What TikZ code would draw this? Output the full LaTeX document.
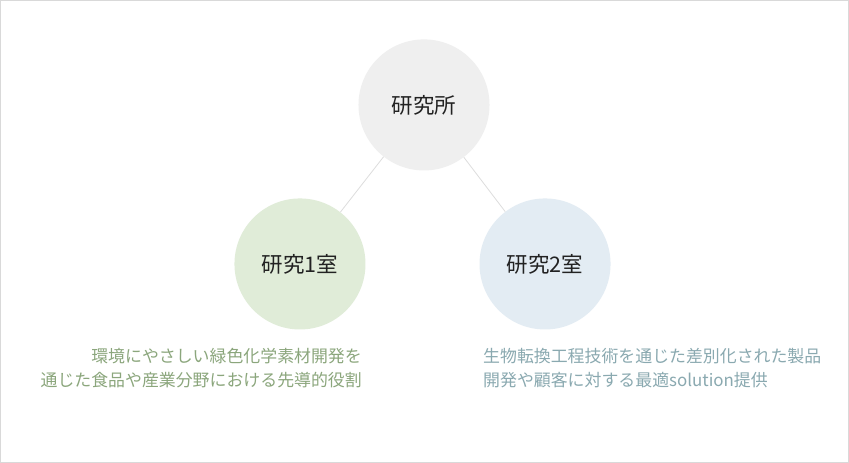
\documentclass[tikz,border=0pt]{standalone}
\usepackage{fontspec}
\setmainfont{Noto Sans CJK JP}
\definecolor{framegray}{HTML}{D9D9D9}
\definecolor{linegray}{HTML}{DDDDDD}
\definecolor{topfill}{HTML}{EFEFEF}
\definecolor{leftfill}{HTML}{E0ECD8}
\definecolor{rightfill}{HTML}{E3ECF3}
\definecolor{greentext}{HTML}{8BA67C}
\definecolor{bluetext}{HTML}{8AA9B0}
\definecolor{darktext}{HTML}{222222}
\begin{document}
\begin{tikzpicture}[x=1pt,y=-1pt,
  bubble/.style={circle,minimum size=131pt,inner sep=0pt,text=darktext,font=\fontsize{21.5}{24}\selectfont},
  link/.style={draw=linegray,line width=0.8pt},
  desc/.style={inner sep=0pt,font=\fontsize{16.9}{24}\selectfont}]
\draw[framegray,fill=white,line width=0.8pt] (0.5,0.5) rectangle (848.5,462.5);
\node[bubble,fill=topfill] (top) at (424,105) {研究所};
\node[bubble,fill=leftfill] (left) at (300,264) {研究1室};
\node[bubble,fill=rightfill] (right) at (545,264) {研究2室};
\draw[link] (top) -- (left);
\draw[link] (top) -- (right);
\node[desc,text=greentext,align=right,anchor=north east] (ldesc) at (362,348) {環境にやさしい緑色化学素材開発を\\通じた食品や産業分野における先導的役割};
\node[desc,text=bluetext,align=left,anchor=north west] (rdesc) at (483,348) {生物転換工程技術を通じた差別化された製品\\開発や顧客に対する最適solution提供};
\end{tikzpicture}
\end{document}
